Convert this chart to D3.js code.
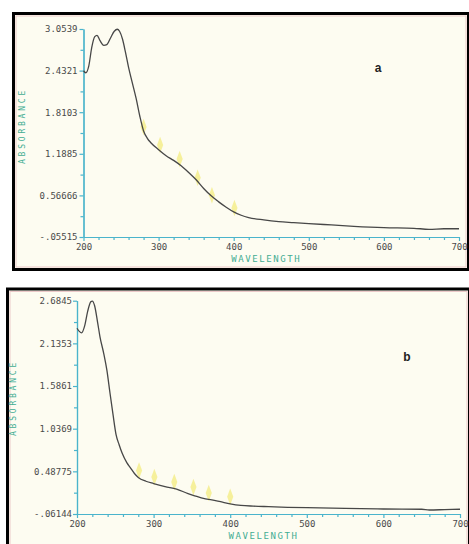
<!DOCTYPE html>
<html lang="en">
<head>
<meta charset="UTF-8">
<title>Absorbance spectra</title>
<script src="https://d3js.org/d3.v7.min.js"></script>
<style>
    body { margin: 0; background: #fff; }
    .tickTxt text { font-family: "DejaVu Sans Mono", monospace; font-size: 9px; fill: #4a4a4a; }
</style>
</head>
<body>
<script>
    // wavelength ticks shared by both panels
    let xTicks = [200, 300, 400, 500, 600, 700];

    // panel a
    let waveA = [200, 203, 207, 211, 215, 218, 222, 227, 231, 236, 241, 245, 248, 252, 256, 260, 265, 270, 275, 280, 285, 290, 300, 310, 320, 330, 340, 350, 360, 370, 380, 390, 400, 410, 420, 440, 460, 480, 500, 530, 560, 600, 640, 660, 680, 700];
    let absA = [2.43, 2.40, 2.50, 2.78, 2.94, 2.96, 2.88, 2.81, 2.82, 2.92, 3.02, 3.05, 3.02, 2.90, 2.70, 2.48, 2.25, 2.02, 1.75, 1.53, 1.42, 1.35, 1.25, 1.16, 1.09, 1.01, 0.91, 0.80, 0.67, 0.56, 0.47, 0.39, 0.32, 0.27, 0.235, 0.20, 0.175, 0.16, 0.145, 0.125, 0.105, 0.085, 0.075, 0.06, 0.068, 0.068];
    let yTicksA = [3.0539, 2.4321, 1.8103, 1.1885, 0.56666, -0.05515];
    let yLabelsA = ["3.0539", "2.4321", "1.8103", "1.1885", "0.56666", "-.05515"];
    let markWaveA = [280, 302, 328, 352, 371, 401];
    let markAbsA = [1.59, 1.32, 1.11, 0.83, 0.57, 0.38];

    // panel b
    let waveB = [200, 203, 206, 210, 214, 218, 220, 223, 227, 230, 235, 239, 243, 247, 251, 255, 259, 265, 270, 275, 280, 290, 300, 315, 330, 345, 355, 365, 376, 390, 400, 414, 430, 450, 475, 500, 550, 600, 650, 660, 680, 700];
    let absB = [2.33, 2.29, 2.27, 2.36, 2.55, 2.67, 2.68, 2.62, 2.40, 2.22, 2.00, 1.79, 1.50, 1.22, 0.96, 0.83, 0.72, 0.60, 0.53, 0.46, 0.41, 0.36, 0.33, 0.29, 0.26, 0.20, 0.17, 0.14, 0.12, 0.09, 0.07, 0.05, 0.04, 0.033, 0.025, 0.02, 0.01, 0.003, 0.0, -0.01, -0.005, 0.0];
    let yTicksB = [2.6845, 2.1353, 1.5861, 1.0369, 0.48775, -0.06144];
    let yLabelsB = ["2.6845", "2.1353", "1.5861", "1.0369", "0.48775", "-.06144"];
    let markWaveB = [281, 301, 327, 352, 372, 400];
    let markAbsB = [0.50, 0.415, 0.35, 0.285, 0.21, 0.16];

    let axisColor = "#4ab4cc";
    let titleColor = "#43ad93";

    let svg = d3.select("body").append("svg")
        .attr("width", 469)
        .attr("height", 544);

    function drawPanel(p) {
        let g = svg.append("g");

        // paper + frame
        g.append("rect")
            .attr("x", p.frame[0]).attr("y", p.frame[1])
            .attr("width", p.frame[2]).attr("height", p.frame[3])
            .style("fill", "#fdfcf1")
            .style("stroke", "black")
            .style("stroke-width", 3);
        g.append("rect")
            .attr("x", p.frame[0] + 2.5).attr("y", p.frame[1] + 2.5)
            .attr("width", p.frame[2] - 5).attr("height", p.frame[3] - 5)
            .style("fill", "none")
            .style("stroke", "#ecc9c9")
            .style("stroke-width", 1);

        let x = d3.scaleLinear().domain([200, 700]).range(p.xRange);
        let y = d3.scaleLinear().domain([p.yTicks[p.yTicks.length - 1], p.yTicks[0]]).range(p.yRange);

        // minor ticks
        let minorX = d3.range(200, 701, 20).filter(v => v % 100 != 0);
        let minorY = [];
        for (let i = 0; i < p.yTicks.length - 1; i++) minorY.push((p.yTicks[i] + p.yTicks[i + 1]) / 2);

        g.append("g")
            .attr("class", "tickTxt")
            .attr("transform", `translate(0,${p.yRange[0]})`)
            .call(d3.axisBottom(x).tickValues(xTicks).tickSize(4).tickSizeOuter(0).tickPadding(3));
        g.append("g")
            .attr("transform", `translate(0,${p.yRange[0]})`)
            .call(d3.axisBottom(x).tickValues(minorX).tickSize(3).tickSizeOuter(0).tickFormat(""));

        g.append("g")
            .attr("class", "tickTxt")
            .attr("transform", `translate(${p.xRange[0]},0)`)
            .call(d3.axisLeft(y).tickValues(p.yTicks).tickSize(4).tickSizeOuter(0).tickPadding(p.yPad)
                .tickFormat((d, i) => p.yLabels[i]));
        g.append("g")
            .attr("transform", `translate(${p.xRange[0]},0)`)
            .call(d3.axisLeft(y).tickValues(minorY).tickSize(3).tickSizeOuter(0).tickFormat(""));

        g.selectAll(".domain, .tick line")
            .style("stroke", axisColor)
            .style("stroke-width", 1.2);

        // axis titles
        g.append("text")
            .attr("x", (p.xRange[0] + p.xRange[1]) / 2 - 5)
            .attr("y", p.yRange[0] + 25)
            .attr("text-anchor", "middle")
            .style("font-family", "DejaVu Sans Mono, monospace")
            .style("font-size", "9px")
            .style("letter-spacing", "1.6px")
            .style("fill", titleColor)
            .text("WAVELENGTH");
        g.append("text")
            .attr("transform", `translate(${p.yTitleX},${p.yTitleY}) rotate(-90)`)
            .attr("text-anchor", "middle")
            .style("font-family", "DejaVu Sans Mono, monospace")
            .style("font-size", "8px")
            .style("letter-spacing", "2.8px")
            .style("fill", titleColor)
            .text("ABSORBANCE");

        // yellow markers
        let marks = p.markWave.map((w, i) => ({w: w, a: p.markAbs[i]}));
        g.selectAll(".mark").data(marks).enter()
            .append("path")
            .attr("class", "mark")
            .attr("d", d3.symbol(d3.symbolDiamond, 40)())
            .attr("transform", d => `translate(${x(d.w)},${y(d.a)}) scale(0.9,1.4)`)
            .style("fill", "#f4ed8c")
            .style("opacity", 0.85);

        // spectrum
        let pts = p.wave.map((w, i) => [w, p.abs[i]]);
        g.append("path")
            .datum(pts)
            .attr("d", d3.line().x(d => x(d[0])).y(d => y(d[1])).curve(d3.curveMonotoneX))
            .style("fill", "none")
            .style("stroke", "#474747")
            .style("stroke-width", 1.3);

        // panel letter
        g.append("text")
            .attr("x", p.letterPos[0]).attr("y", p.letterPos[1])
            .attr("text-anchor", "middle")
            .style("font-family", "Liberation Sans, Arial, sans-serif")
            .style("font-weight", "bold")
            .style("font-size", "12px")
            .style("fill", "#222")
            .text(p.letter);
    }

    drawPanel({
        frame: [13.5, 13.5, 455, 256],
        xRange: [83.5, 459], yRange: [237, 29], yPad: 2,
        wave: waveA, abs: absA, yTicks: yTicksA, yLabels: yLabelsA,
        markWave: markWaveA, markAbs: markAbsA,
        yTitleX: 25, yTitleY: 126,
        letter: "a", letterPos: [378, 72]
    });

    drawPanel({
        frame: [7.5, 289, 462, 262],
        xRange: [77, 460], yRange: [514, 300.7], yPad: 1,
        wave: waveB, abs: absB, yTicks: yTicksB, yLabels: yLabelsB,
        markWave: markWaveB, markAbs: markAbsB,
        yTitleX: 16, yTitleY: 398,
        letter: "b", letterPos: [407, 361]
    });
</script>
</body>
</html>
